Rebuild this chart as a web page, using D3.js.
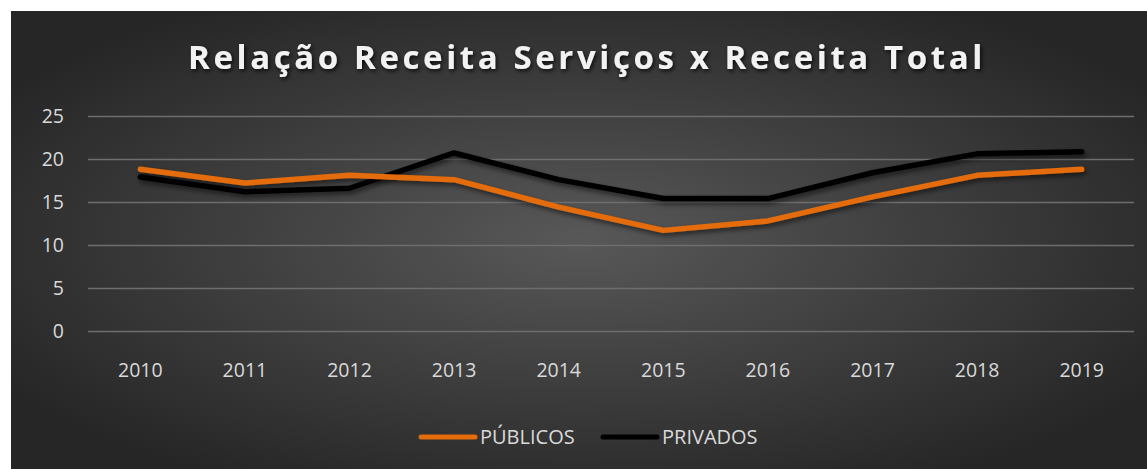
<!DOCTYPE html>
<html><head><meta charset="utf-8">
<script src="https://cdn.jsdelivr.net/npm/d3@7"></script>
<style>html,body{margin:0;padding:0;background:#fff;}svg{display:block;}</style>
</head><body>
<svg id="c" width="1147" height="469"></svg>
<script>
const years = ["2010","2011","2012","2013","2014","2015","2016","2017","2018","2019"];
const publicos = [18.8,17.2,18.1,17.6,14.4,11.7,12.8,15.6,18.1,18.8];
const privados = [17.9,16.2,16.6,20.7,17.6,15.4,15.4,18.4,20.6,20.85];
const yTicks = [0,5,10,15,20,25];
const seriesNames = ["PÚBLICOS","PRIVADOS"];
const seriesColors = ["#E46C0A","#000000"];

const svg = d3.select("#c");
const W = 1147, H = 469;
const defs = svg.append("defs");
const rg = defs.append("radialGradient").attr("id","bg").attr("cx","50%").attr("cy","50%").attr("r","60%")
  .attr("gradientUnits","objectBoundingBox");
rg.append("stop").attr("offset","0%").attr("stop-color","#585858");
rg.append("stop").attr("offset","100%").attr("stop-color","#262626");
const f = defs.append("filter").attr("id","sh").attr("x","-10%").attr("y","-30%").attr("width","120%").attr("height","160%");
f.append("feDropShadow").attr("dx",2).attr("dy",3).attr("stdDeviation",2.5).attr("flood-color","#000").attr("flood-opacity",0.55);
const ft = defs.append("filter").attr("id","tsh").attr("x","-5%").attr("y","-30%").attr("width","110%").attr("height","160%");
ft.append("feDropShadow").attr("dx",1.5).attr("dy",2).attr("stdDeviation",2).attr("flood-color","#000").attr("flood-opacity",0.8);

svg.append("rect").attr("x",11).attr("y",11).attr("width",W-11).attr("height",H-11).attr("fill","url(#bg)");

svg.append("text").attr("x",587).attr("y",69).attr("text-anchor","middle")
  .attr("font-family","Open Sans").attr("font-weight","bold").attr("font-size",33)
  .attr("letter-spacing","3.6").attr("fill","#f2f2f2").attr("filter","url(#tsh)")
  .text("Relação Receita Serviços x Receita Total");

const x = d3.scaleBand().domain(years).range([88,1134]);
const y = d3.scaleLinear().domain([0,25]).range([331,116]);

const gy = svg.append("g").attr("transform","translate(88,0)")
  .call(d3.axisLeft(y).tickValues(yTicks).tickSize(-1046).tickPadding(24).tickFormat(d3.format("d")));
gy.select(".domain").remove();
gy.selectAll(".tick line").attr("stroke","#6e6e6e").attr("stroke-width",1.3);
gy.selectAll(".tick text").attr("fill","#d9d9d9").attr("font-family","Open Sans").attr("font-size",19.5);

const gx = svg.append("g").attr("transform","translate(0,331)")
  .call(d3.axisBottom(x).tickSize(0).tickPadding(32));
gx.select(".domain").remove();
gx.selectAll(".tick text").attr("fill","#d9d9d9").attr("font-family","Open Sans").attr("font-size",19.5);

const line = d3.line().x((d,i)=>x(years[i])+x.bandwidth()/2).y(d=>y(d));
[privados, publicos].forEach((s)=>{
  const idx = s===publicos?0:1;
  svg.append("path").datum(s).attr("d",line).attr("fill","none")
    .attr("stroke",seriesColors[idx]).attr("stroke-width",5.5).attr("stroke-linecap","round").attr("stroke-linejoin","round")
    .attr("filter","url(#sh)");
});

const legX = [421,603];
seriesNames.forEach((n,i)=>{
  svg.append("line").attr("x1",legX[i]).attr("x2",legX[i]+54).attr("y1",437).attr("y2",437)
    .attr("stroke",seriesColors[i]).attr("stroke-width",5).attr("stroke-linecap","round");
  svg.append("text").attr("x",legX[i]+59).attr("y",444).attr("fill","#d9d9d9")
    .attr("font-family","Open Sans").attr("font-size",20).text(n);
});
</script>
</body></html>
